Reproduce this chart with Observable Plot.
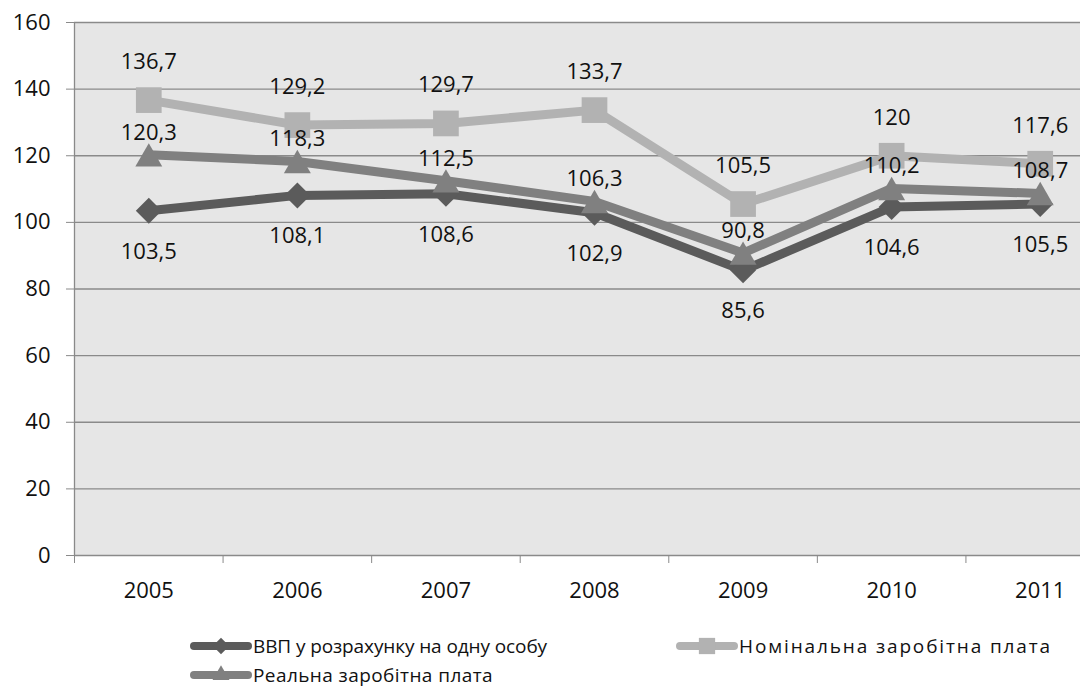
<!DOCTYPE html>
<html><head><meta charset="utf-8">
<script src="https://cdn.jsdelivr.net/npm/d3@7"></script>
<script src="https://cdn.jsdelivr.net/npm/@observablehq/plot@0.6"></script>
<style>
html,body{margin:0;padding:0;background:#fff;overflow:hidden;width:1080px;height:693px;}
#chart{position:absolute;left:0;top:0;width:1114px;}
#chart svg{max-width:none !important;}
.leg{position:absolute;font-family:"Open Sans",sans-serif;font-size:19px;color:#111;display:flex;align-items:center;white-space:nowrap;}
.leg svg{margin-right:1px;}
</style></head>
<body>
<div id="chart"></div>
<div id="legend"></div>
<script>
const years = [2005, 2006, 2007, 2008, 2009, 2010, 2011];
const gdp = [103.5, 108.1, 108.6, 102.9, 85.6, 104.6, 105.5];
const nominal = [136.7, 129.2, 129.7, 133.7, 105.5, 120, 117.6];
const real = [120.3, 118.3, 112.5, 106.3, 90.8, 110.2, 108.7];
const seriesNames = ["ВВП у розрахунку на одну особу", "Номінальна заробітна плата", "Реальна заробітна плата"];
const yTicks = [0, 20, 40, 60, 80, 100, 120, 140, 160];

const colors = ["#5b5b5b", "#b2b2b2", "#808080"];
const symbols = ["diamond2", "square", "triangle"];
const radii = [11.7, 14.5, 10];
const dotDy = [0, 0, 4];
const labelDy = [41, -38, -22];
const valuesList = [gdp, nominal, real];

const rows = [];
valuesList.forEach((vals, s) => years.forEach((y, i) => rows.push({series: seriesNames[s], s, year: y, value: vals[i]})));
const fmt = v => String(v).replace(".", ",");
const boundaries = years.map(y => y - 0.5).concat([years[years.length - 1] + 0.5]);
const font = '"Open Sans", sans-serif';

const marks = [
  Plot.frame({fill: "#e6e6e6", stroke: null}),
  Plot.ruleY(yTicks, {stroke: "#8a8a8a", strokeWidth: 1.3}),
  Plot.ruleX([boundaries[0]], {stroke: "#8a8a8a", strokeWidth: 1.3}),
  Plot.axisY({ticks: yTicks, tickSize: 8, tickPadding: 16, stroke: "#8a8a8a", label: null, fontSize: 22, fill: "#111"}),
  Plot.axisX({ticks: boundaries, tickSize: 8, tickFormat: () => "", stroke: "#8a8a8a", label: null}),
  Plot.axisX({ticks: years, tickSize: 0, tickPadding: 27, tickFormat: d => String(d), label: null, fontSize: 22, fill: "#111"})
];
for (let s = 0; s < 3; s++) {
  const d = rows.filter(r => r.s === s);
  marks.push(Plot.line(d, {x: "year", y: "value", stroke: colors[s], strokeWidth: 9, strokeLinejoin: "round", strokeLinecap: "round"}));
  marks.push(Plot.dot(d, {x: "year", y: "value", symbol: symbols[s], r: radii[s], dy: dotDy[s], fill: colors[s], stroke: null}));
}
for (let s = 0; s < 3; s++) {
  const d = rows.filter(r => r.s === s);
  marks.push(Plot.text(d, {x: "year", y: "value", text: r => fmt(r.value), dy: labelDy[s], fontSize: 22, fill: "#111"}));
}

const chart = Plot.plot({
  width: 1114, height: 610,
  marginLeft: 74, marginRight: 0, marginTop: 22, marginBottom: 55,
  style: {fontFamily: font, background: "transparent", overflow: "visible", maxWidth: "none"},
  x: {type: "linear", domain: [boundaries[0], boundaries[boundaries.length - 1]]},
  y: {domain: [0, 160]},
  marks
});
document.getElementById("chart").appendChild(chart);

// legend
const legPos = [{left: 188, top: 632}, {left: 674, top: 632}, {left: 188, top: 661}];
const legTextWidths = [294, 313, 240];
const legend = document.getElementById("legend");
seriesNames.forEach((name, s) => {
  const div = document.createElement("div");
  div.className = "leg";
  div.style.left = legPos[s].left + "px";
  div.style.top = legPos[s].top + "px";
  const sym = d3.symbol(d3[{diamond2: "symbolDiamond2", square: "symbolSquare", triangle: "symbolTriangle"}[symbols[s]]], Math.PI * radii[s] * radii[s] * 0.4)();
  div.innerHTML = `<svg width="64" height="28" viewBox="0 0 64 28"><line x1="6" y1="14" x2="60" y2="14" stroke="${colors[s]}" stroke-width="8" stroke-linecap="round"/><path d="${sym}" transform="translate(33,14)" fill="${colors[s]}"/></svg><span>${name}</span>`;
  legend.appendChild(div);
  const span = div.querySelector("span");
  const w = span.getBoundingClientRect().width;
  span.style.letterSpacing = ((legTextWidths[s] - w) / name.length) + "px";
});
</script>
</body></html>
